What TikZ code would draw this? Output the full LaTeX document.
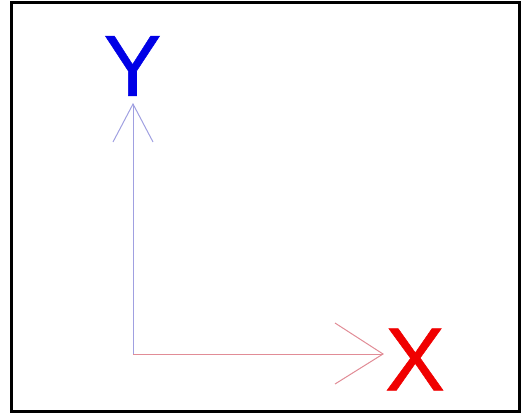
\documentclass[tikz,border=0pt]{standalone}
\usepackage{fontspec}
\setmainfont{Liberation Sans}
\newfontfamily\lblfont[FakeBold=0.6]{Liberation Sans}
\definecolor{axblue}{RGB}{160,160,225}
\definecolor{axred}{RGB}{225,140,150}
\definecolor{lblue}{RGB}{0,0,230}
\definecolor{lred}{RGB}{240,0,0}
\begin{document}
\begin{tikzpicture}[x=1pt,y=-1pt,
  frame/.style={draw=black,line width=3pt},
  yaxis/.style={draw=axblue,line width=1pt},
  xaxis/.style={draw=axred,line width=1pt},
  lbl/.style={inner sep=0pt,anchor=center}]
\useasboundingbox (0,0) rectangle (521,415);
\draw[frame] (11.5,2.5) rectangle (519.5,411.5);
\coordinate (O) at (133,354);
\coordinate (ytip) at (133,104);
\coordinate (xtip) at (383,354);
\coordinate (yl) at (113,142);
\coordinate (yr) at (153,142);
\coordinate (xu) at (335,323);
\coordinate (xd) at (335,384);
\draw[yaxis] (O) -- (ytip);
\draw[yaxis] (yl) -- (ytip) -- (yr);
\draw[xaxis] (O) -- (xtip);
\draw[xaxis] (xu) -- (xtip) -- (xd);
\node[lbl,text=lblue,font=\lblfont\fontsize{87}{87}\selectfont] (Y) at (132.5,66) {Y};
\node[lbl,text=lred,font=\lblfont\fontsize{90}{90}\selectfont] (X) at (415,359.5) {X};
\end{tikzpicture}
\end{document}
